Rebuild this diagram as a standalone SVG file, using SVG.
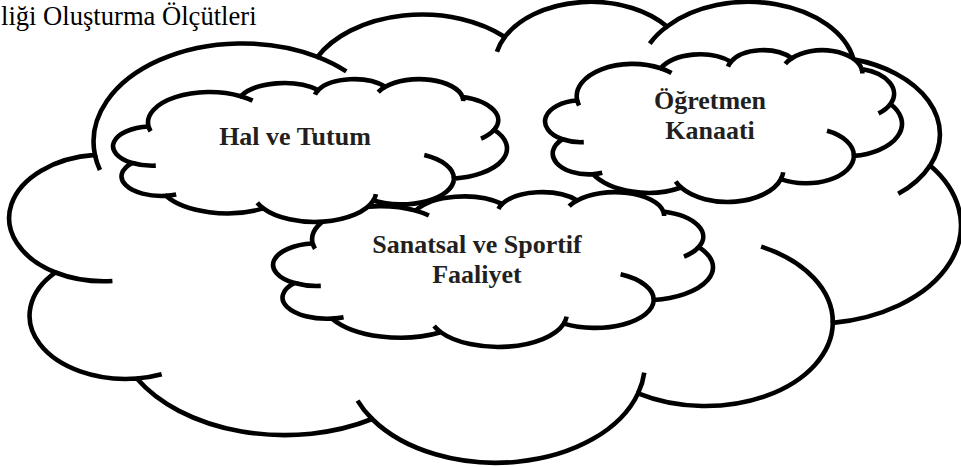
<svg xmlns="http://www.w3.org/2000/svg" width="961" height="467" viewBox="0 0 961 467">
<style>
.body{fill:#ffffff;stroke:#000000;stroke-width:4.6}
.arcs{fill:none;stroke:#000000;stroke-width:4.6}
.lbl{font-family:"Liberation Serif","DejaVu Serif",serif;font-weight:bold;font-size:26px;fill:#231F20;text-anchor:middle}
.title{font-family:"Liberation Serif","DejaVu Serif",serif;font-size:26.6px;fill:#000000}
</style>
<rect width="961" height="467" fill="#ffffff"/>
<text class="title" x="1" y="25">liği Oluşturma Ölçütleri</text>
<g id="connectors"/>
<g id="main-cloud">
<path class="body" d="M94.94,154.91 A148.82,98.18 0 0 1 317.52,56.87 A117.52,77.63 0 0 1 504.83,36.97 A96.19,63.51 0 0 1 667.03,26.51 A107.03,70.45 0 0 1 853.55,59.37 A117.52,77.70 0 0 1 930.10,165.43 A149.30,98.50 0 0 1 832.81,322.91 A127.48,84.04 0 0 1 638.05,393.36 A148.79,98.44 0 0 1 372.13,419.00 A170.13,112.63 0 0 1 136.86,378.48 A96.08,63.22 0 0 1 55.50,272.49 A95.75,63.51 0 0 1 94.94,154.91 Z"/>
<path class="arcs" d="M112.42,281.05 A95.75,63.51 0 0 1 55.50,272.49 M161.67,374.23 A96.08,63.22 0 0 1 136.86,378.48 M372.13,419.00 A148.79,98.44 0 0 1 357.56,400.63 M644.27,372.65 A148.79,98.44 0 0 1 638.05,393.36 M761.10,246.62 A127.48,84.04 0 0 1 832.81,322.91 M930.10,165.43 A117.52,77.70 0 0 1 898.24,193.84 M853.55,59.37 A107.03,70.45 0 0 1 855.22,72.87 M649.79,43.62 A107.03,70.45 0 0 1 667.03,26.51 M496.92,51.82 A96.19,63.51 0 0 1 504.83,36.97 M317.52,56.87 A148.82,98.18 0 0 1 346.30,71.41 M99.95,170.07 A148.82,98.18 0 0 1 94.94,154.91"/>
</g>
<g id="node-sanatsal">
<path class="body" d="M312.72,243.56 A68.78,32.97 0 0 1 415.59,210.63 A54.32,26.07 0 0 1 502.17,203.95 A44.46,21.33 0 0 1 577.13,200.43 A49.47,23.66 0 0 1 663.34,211.47 A54.32,26.10 0 0 1 698.72,247.09 A69.00,33.08 0 0 1 653.75,299.98 A58.92,28.23 0 0 1 563.74,323.64 A68.77,33.06 0 0 1 440.83,332.25 A78.63,37.83 0 0 1 332.09,318.64 A44.41,21.23 0 0 1 294.49,283.05 A44.25,21.33 0 0 1 312.72,243.56 Z"/>
<path class="arcs" d="M320.80,285.92 A44.25,21.33 0 0 1 294.49,283.05 M343.56,317.22 A44.41,21.23 0 0 1 332.09,318.64 M440.83,332.25 A68.77,33.06 0 0 1 434.10,326.09 M566.61,316.69 A68.77,33.06 0 0 1 563.74,323.64 M620.61,274.36 A58.92,28.23 0 0 1 653.75,299.98 M698.72,247.09 A54.32,26.10 0 0 1 683.99,256.63 M663.34,211.47 A49.47,23.66 0 0 1 664.11,216.00 M569.16,206.18 A49.47,23.66 0 0 1 577.13,200.43 M498.51,208.94 A44.46,21.33 0 0 1 502.17,203.95 M415.59,210.63 A68.78,32.97 0 0 1 428.89,215.51 M315.03,248.65 A68.78,32.97 0 0 1 312.72,243.56"/>
<text class="lbl" x="477" y="253">Sanatsal ve Sportif</text>
<text class="lbl" x="477" y="283">Faaliyet</text>
</g>
<g id="node-ogretmen">
<path class="body" d="M577.23,100.56 A55.81,32.34 0 0 1 660.69,68.27 A44.07,25.57 0 0 1 730.94,61.72 A36.07,20.92 0 0 1 791.76,58.27 A40.14,23.20 0 0 1 861.71,69.09 A44.07,25.59 0 0 1 890.41,104.02 A55.99,32.44 0 0 1 853.93,155.89 A47.81,27.68 0 0 1 780.89,179.09 A55.80,32.42 0 0 1 681.17,187.54 A63.80,37.10 0 0 1 592.95,174.19 A36.03,20.82 0 0 1 562.44,139.29 A35.91,20.92 0 0 1 577.23,100.56 Z"/>
<path class="arcs" d="M583.78,142.10 A35.91,20.92 0 0 1 562.44,139.29 M602.25,172.79 A36.03,20.82 0 0 1 592.95,174.19 M681.17,187.54 A55.80,32.42 0 0 1 675.71,181.49 M783.22,172.27 A55.80,32.42 0 0 1 780.89,179.09 M827.04,130.76 A47.81,27.68 0 0 1 853.93,155.89 M890.41,104.02 A44.07,25.59 0 0 1 878.46,113.38 M861.71,69.09 A40.14,23.20 0 0 1 862.33,73.54 M785.30,63.90 A40.14,23.20 0 0 1 791.76,58.27 M727.97,66.61 A36.07,20.92 0 0 1 730.94,61.72 M660.69,68.27 A55.81,32.34 0 0 1 671.49,73.06 M579.10,105.55 A55.81,32.34 0 0 1 577.23,100.56"/>
<text class="lbl" x="710" y="109">Öğretmen</text>
<text class="lbl" x="710" y="139">Kanaati</text>
</g>
<g id="node-hal">
<path class="body" d="M148.57,126.57 A61.59,30.42 0 0 1 240.69,96.19 A48.64,24.06 0 0 1 318.21,90.02 A39.81,19.68 0 0 1 385.33,86.78 A44.30,21.83 0 0 1 462.53,96.96 A48.64,24.07 0 0 1 494.21,129.82 A61.79,30.52 0 0 1 453.95,178.62 A52.76,26.04 0 0 1 373.34,200.45 A61.58,30.50 0 0 1 263.29,208.40 A70.41,34.90 0 0 1 165.92,195.84 A39.76,19.59 0 0 1 132.24,163.00 A39.63,19.68 0 0 1 148.57,126.57 Z"/>
<path class="arcs" d="M155.80,165.65 A39.63,19.68 0 0 1 132.24,163.00 M176.19,194.52 A39.76,19.59 0 0 1 165.92,195.84 M263.29,208.40 A61.58,30.50 0 0 1 257.26,202.70 M375.91,194.03 A61.58,30.50 0 0 1 373.34,200.45 M424.27,154.98 A52.76,26.04 0 0 1 453.95,178.62 M494.21,129.82 A48.64,24.07 0 0 1 481.02,138.63 M462.53,96.96 A44.30,21.83 0 0 1 463.22,101.15 M378.20,92.08 A44.30,21.83 0 0 1 385.33,86.78 M314.93,94.62 A39.81,19.68 0 0 1 318.21,90.02 M240.69,96.19 A61.59,30.42 0 0 1 252.60,100.69 M150.64,131.26 A61.59,30.42 0 0 1 148.57,126.57"/>
<text class="lbl" x="295" y="145">Hal ve Tutum</text>
</g>
</svg>
